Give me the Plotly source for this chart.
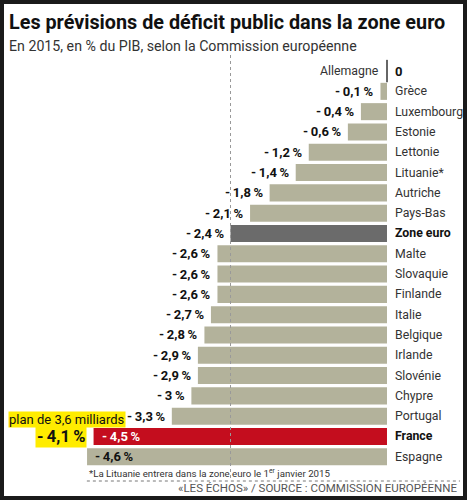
import plotly.graph_objects as go

# --- Data ---
countries = ["Allemagne", "Grèce", "Luxembourg", "Estonie", "Lettonie", "Lituanie*",
             "Autriche", "Pays-Bas", "Zone euro", "Malte", "Slovaquie", "Finlande",
             "Italie", "Belgique", "Irlande", "Slovénie", "Chypre", "Portugal",
             "France", "Espagne"]
deficits = [0, -0.1, -0.4, -0.6, -1.2, -1.4, -1.8, -2.1, -2.4, -2.6, -2.6, -2.6,
            -2.7, -2.8, -2.9, -2.9, -3.0, -3.3, -4.5, -4.6]
plan_label = "plan de 3,6 milliards"
plan_value = -4.1

# --- Styling helpers ---
KHAKI = "#b3b29b"
DARK = "#6b6b6b"
RED = "#c40d1e"
YELLOW = "#ffec00"
FONT = "Roboto"


def fmt(v):
    # French style with narrow spaces: "- 2,6 %"
    if v == 0:
        return "0"
    s = f"{abs(v):.1f}".rstrip("0").rstrip(".").replace(".", ",")
    return f"-\u2009{s}\u2009%"


colors = []
for c in countries:
    if c == "Zone euro":
        colors.append(DARK)
    elif c == "France":
        colors.append(RED)
    else:
        colors.append(KHAKI)

fig = go.Figure()
fig.add_trace(go.Bar(
    x=deficits, y=countries, orientation="h",
    marker=dict(color=colors, line=dict(width=0)),
    hoverinfo="skip",
))

# Allemagne: zero-length bar drawn as a tick
fig.add_trace(go.Scatter(
    x=[deficits[0]], y=[countries[0]], mode="markers",
    marker=dict(symbol="line-ns-open", size=16, color="#666",
                line=dict(width=2, color="#666")),
    hoverinfo="skip",
))

annotations = []
for c, v in zip(countries, deficits):
    bold = c in ("Zone euro", "France")
    if c == "Allemagne":
        annotations.append(dict(x=0, y=c, text=c, xanchor="right", xshift=-6,
                                showarrow=False, font=dict(size=12.3, color="#333")))
        annotations.append(dict(x=0, y=c, text="<b>0</b>", xanchor="left", xshift=6,
                                showarrow=False, font=dict(size=13, color="#111")))
        continue
    name = f"<b>{c}</b>" if bold else c
    annotations.append(dict(x=0, y=c, text=name, xanchor="left", xshift=6,
                            showarrow=False,
                            font=dict(size=12.3, color="#111" if bold else "#333")))
    if c == "France":
        annotations.append(dict(x=v, y=c, text=f"<b>{fmt(v)}</b>", xanchor="left",
                                xshift=6, showarrow=False,
                                font=dict(size=13, color="white")))
    elif c == "Espagne":
        annotations.append(dict(x=v, y=c, text=f"<b>{fmt(v)}</b>", xanchor="left",
                                xshift=6, showarrow=False,
                                font=dict(size=13, color="#111")))
    else:
        annotations.append(dict(x=v, y=c, text=f"<b>{fmt(v)}</b>", xanchor="right",
                                xshift=-4, showarrow=False,
                                font=dict(size=13, color="#111")))

# Yellow "plan" annotation
annotations.append(dict(x=0.018, y="Portugal", xref="paper", text=plan_label,
                        xanchor="left", yshift=-3, showarrow=False,
                        bgcolor=YELLOW, borderpad=0,
                        font=dict(size=13, color="#111")))
annotations.append(dict(x=0.076, y="France", xref="paper",
                        text=f"<b>{fmt(plan_value)}</b>",
                        xanchor="left", showarrow=False,
                        bgcolor=YELLOW, borderpad=1,
                        font=dict(size=16.5, color="#111")))

# Title, subtitle, footnotes
annotations += [
    dict(x=0.016, y=0.956, xref="paper", yref="paper", xanchor="left", yanchor="middle",
         text="<b>Les prévisions de déficit public dans la zone euro</b>", showarrow=False,
         font=dict(family=FONT, size=19.8, color="#111")),
    dict(x=0.016, y=0.908, xref="paper", yref="paper", xanchor="left", yanchor="middle",
         text="En 2015, en % du PIB, selon la Commission européenne", showarrow=False,
         font=dict(family=FONT, size=14.2, color="#333")),
    dict(x=0.186, y=0.054, xref="paper", yref="paper", xanchor="left", yanchor="middle",
         text="*La Lituanie entrera dans la zone euro le 1<sup>er</sup> janvier 2015",
         showarrow=False, font=dict(family=FONT, size=9.7, color="#333")),
    dict(x=0.983, y=0.024, xref="paper", yref="paper", xanchor="right", yanchor="middle",
         text="«LES ÉCHOS» / SOURCE : COMMISSION EUROPÉENNE",
         showarrow=False, font=dict(family=FONT, size=11.5, color="#555")),
]

zone_value = deficits[countries.index("Zone euro")]
shapes = [
    # dotted line at euro-zone average
    dict(type="line", xref="x", yref="paper", x0=zone_value, x1=zone_value,
         y0=0.044, y1=0.895, line=dict(color="#999", width=1, dash="dot"), layer="above"),
    # dotted separator above source
    dict(type="line", xref="paper", yref="paper", x0=0.186, x1=0.985,
         y0=0.038, y1=0.038, line=dict(color="#777", width=1, dash="dot")),
    # frame
    dict(type="rect", xref="paper", yref="paper", x0=0, x1=1, y0=0, y1=1,
         line=dict(color="#1a1a1a", width=8)),
]

fig.update_layout(
    width=467, height=500,
    margin=dict(l=0, r=0, t=0, b=0),
    paper_bgcolor="white", plot_bgcolor="white",
    showlegend=False, bargap=0.16,
    font=dict(family=FONT),
    xaxis=dict(range=[-5.935, 1.227], visible=False, fixedrange=True),
    yaxis=dict(type="category", categoryorder="array", categoryarray=countries,
               range=[21.13, -3.5], visible=False, fixedrange=True),
    annotations=annotations,
    shapes=shapes,
)

fig.write_html("out.html", config={"displayModeBar": False},
               post_script="document.body.style.margin='0';")
